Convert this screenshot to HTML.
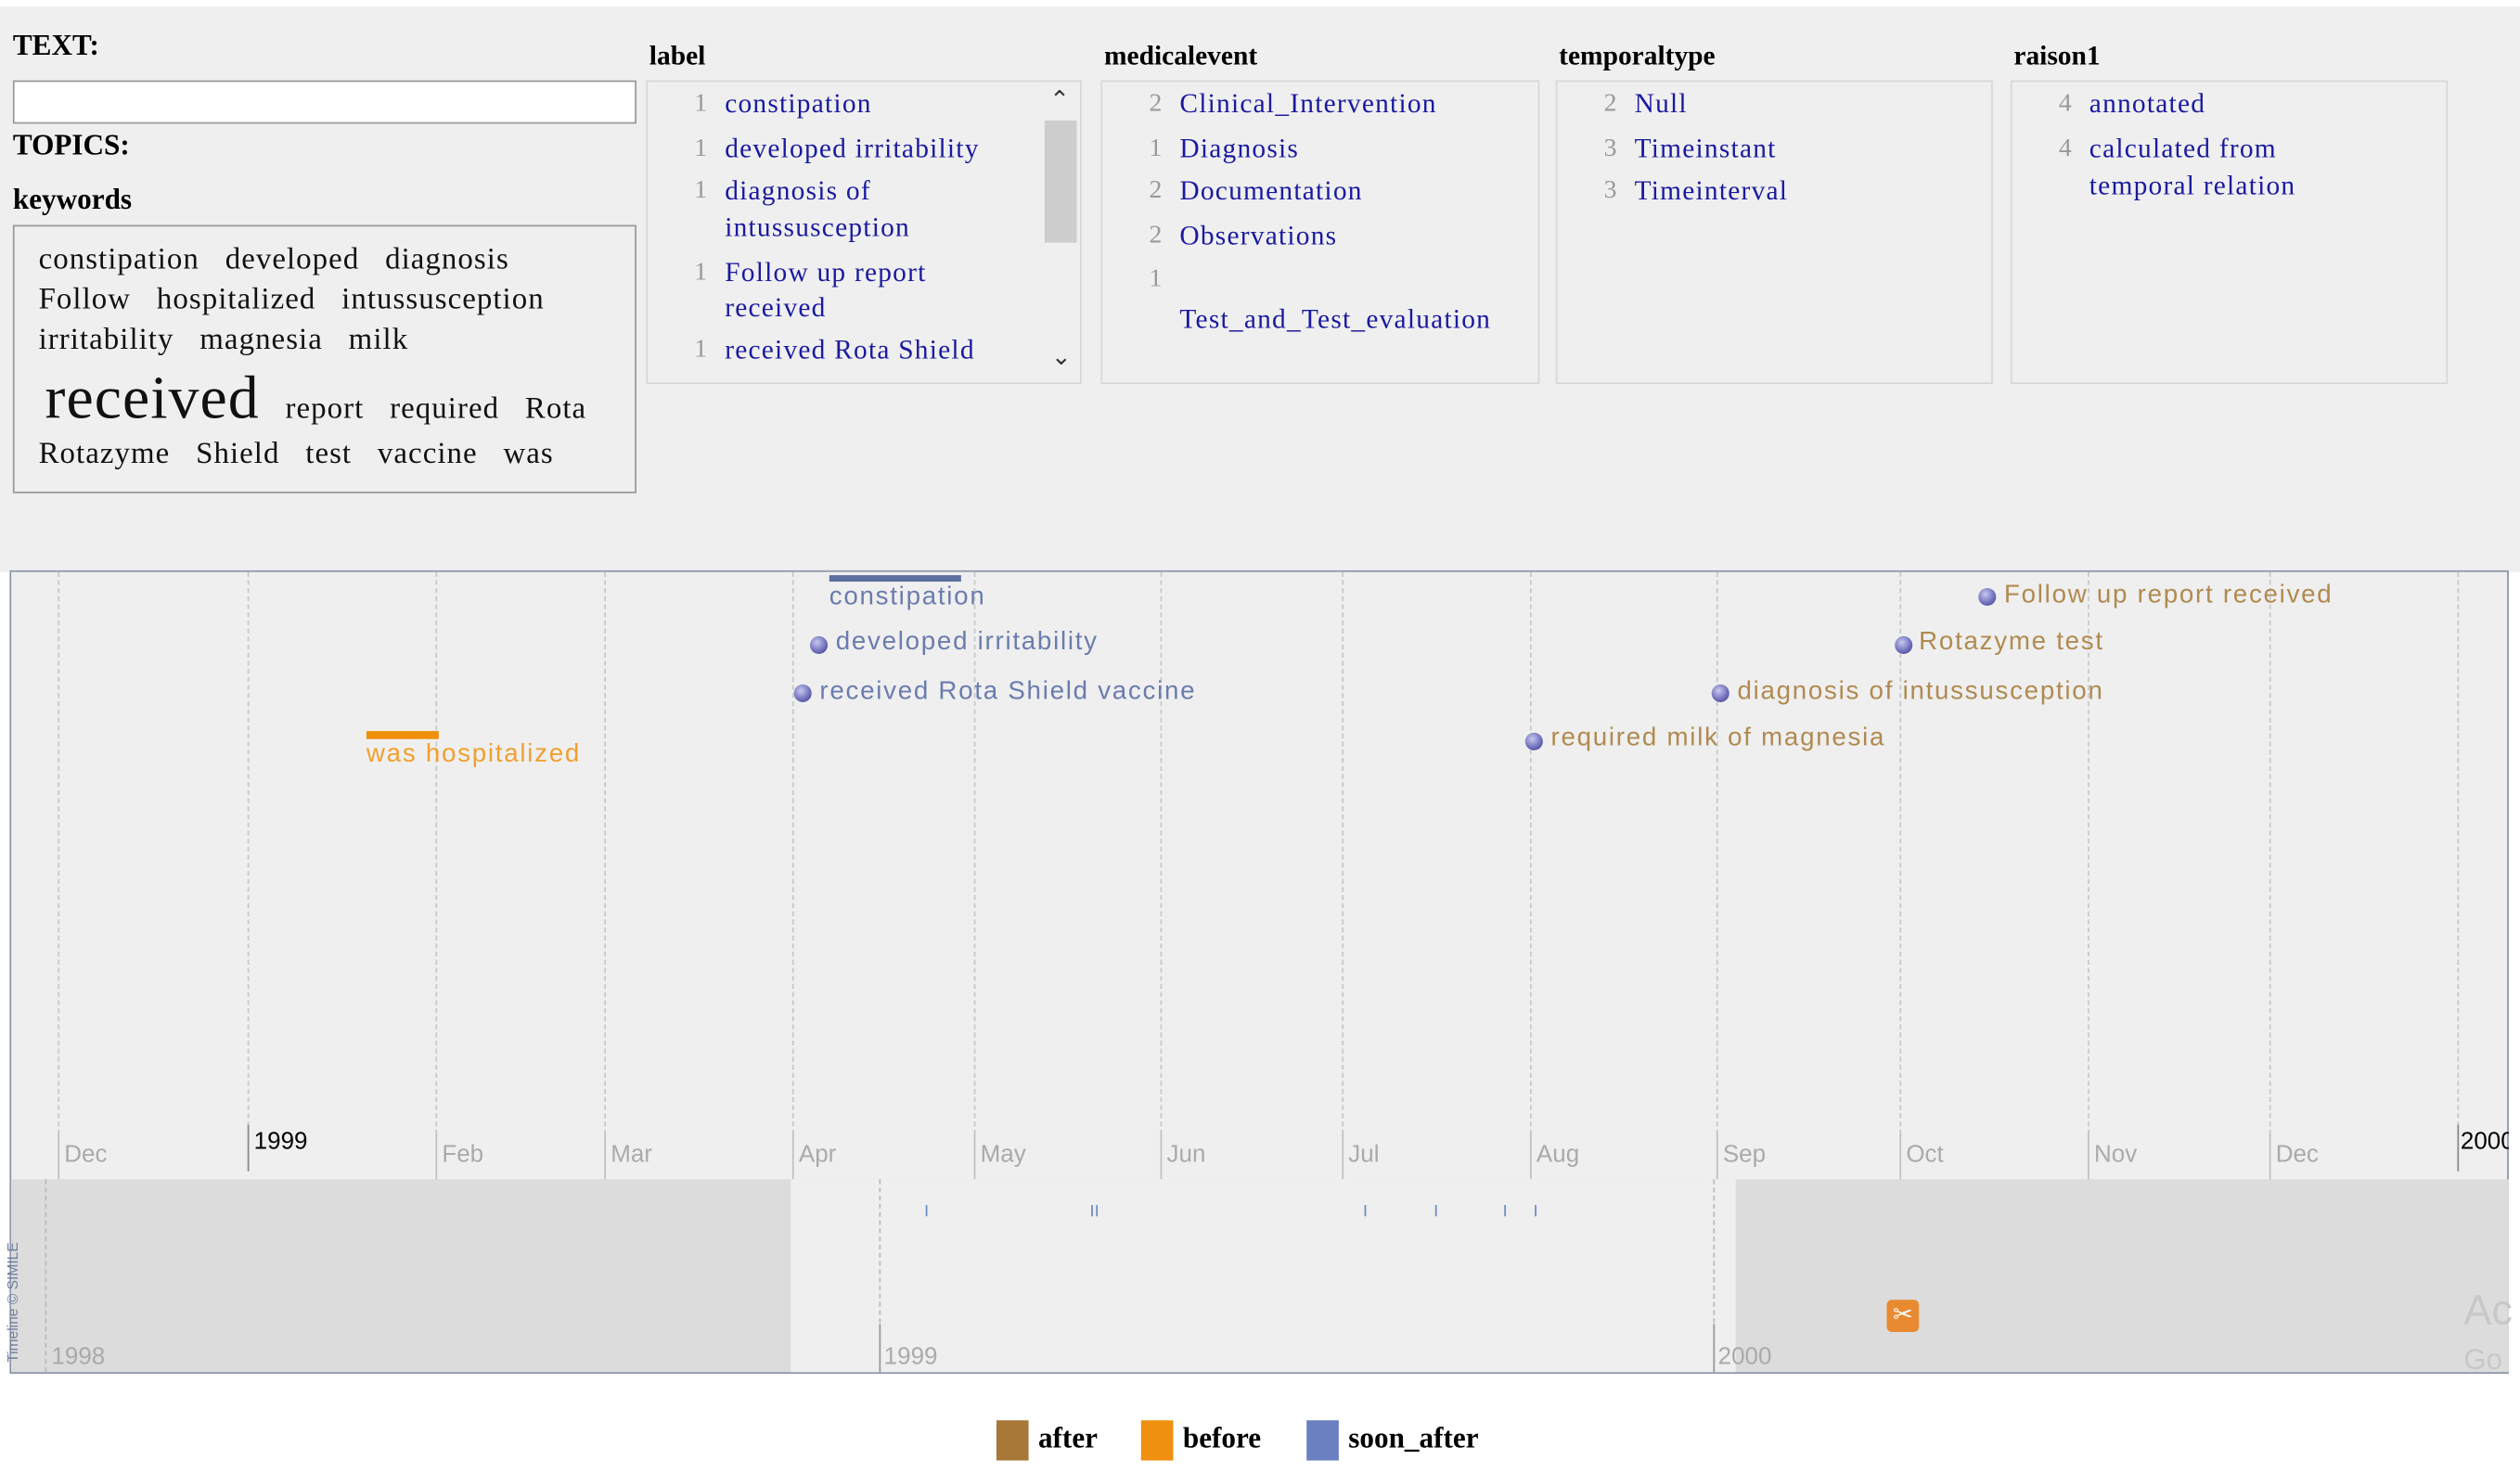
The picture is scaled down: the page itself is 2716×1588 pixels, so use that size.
<!DOCTYPE html>
<html><head><meta charset="utf-8"><style>
html,body{margin:0;padding:0;background:#fff;width:2716px;height:1588px;overflow:hidden}
#w{position:absolute;left:0;top:0;width:1568px;height:917px;transform:scale(1.73214);transform-origin:0 0}
.a{position:absolute;white-space:nowrap}
.s{font-family:"Liberation Serif",serif}
.h{font-family:"Liberation Serif",serif;font-weight:bold;font-size:17px;color:#000}
.kw{font-family:"Liberation Serif",serif;font-size:19px;letter-spacing:0.6px;color:#111}
.box{position:absolute;border:1px solid #d8d8d8;background:#efefef}
.n{position:absolute;font-family:"Liberation Serif",serif;font-size:16px;color:#999}
.t{position:absolute;font-family:"Liberation Serif",serif;font-size:17px;letter-spacing:0.7px;color:#1a1aa0;white-space:nowrap}
.g{position:absolute;top:356px;height:350px;border-left:1px dashed #c8c8c8}
.gs{position:absolute;top:705px;height:29px;border-left:1px solid #c0c0c0}
.m{position:absolute;top:710px;font-family:"Liberation Sans",sans-serif;font-size:15px;color:#aaa}
.ev{position:absolute;font-family:"Liberation Sans",sans-serif;font-size:16px;letter-spacing:1px;white-space:nowrap}
.dot{position:absolute;width:11px;height:11px;border-radius:50%;background:radial-gradient(circle at 40% 35%,#c8c8f0,#6a6ab8 60%,#3a3a80);}
.tk{position:absolute;top:750px;width:1px;height:7px;background:#6a8ac8}
</style></head><body><div id="w">
<div class="a" style="left:0;top:4px;width:1568px;height:352px;background:#efefef"></div>
<div class="a h" style="left:8px;top:18px;font-size:18px">TEXT:</div>
<div class="a" style="left:8px;top:50px;width:386px;height:25px;background:#fff;border:1px solid #999"></div>
<div class="a h" style="left:8px;top:80px;font-size:18px">TOPICS:</div>
<div class="a h" style="left:8px;top:114px;font-size:18px">keywords</div>
<div class="a" style="left:8px;top:140px;width:386px;height:165px;border:1px solid #999"></div>
<div class="a kw" style="left:24px;top:151px">constipation&nbsp;&nbsp; developed&nbsp;&nbsp; diagnosis</div>
<div class="a kw" style="left:24px;top:176px">Follow&nbsp;&nbsp; hospitalized&nbsp;&nbsp; intussusception</div>
<div class="a kw" style="left:24px;top:201px">irritability&nbsp;&nbsp; magnesia&nbsp;&nbsp; milk</div>
<div class="a kw" style="left:28px;top:226px"><span style="font-size:38px">received</span>&nbsp;&nbsp; report&nbsp;&nbsp; required&nbsp;&nbsp; Rota</div>
<div class="a kw" style="left:24px;top:272px">Rotazyme&nbsp;&nbsp; Shield&nbsp;&nbsp; test&nbsp;&nbsp; vaccine&nbsp;&nbsp; was</div>

<div class="a h" style="left:404px;top:25px">label</div>
<div class="box" style="left:402px;top:50px;width:269px;height:187px;overflow:hidden">
 <div class="n" style="left:29px;top:5px">1</div><div class="t" style="left:48px;top:4px">constipation</div>
 <div class="n" style="left:29px;top:33px">1</div><div class="t" style="left:48px;top:32px">developed irritability</div>
 <div class="n" style="left:29px;top:59px">1</div><div class="t" style="left:48px;top:58px">diagnosis of</div><div class="t" style="left:48px;top:81px">intussusception</div>
 <div class="n" style="left:29px;top:110px">1</div><div class="t" style="left:48px;top:109px">Follow up report</div><div class="t" style="left:48px;top:131px">received</div>
 <div class="n" style="left:29px;top:158px">1</div><div class="t" style="left:48px;top:157px">received Rota Shield</div>
 <div class="a" style="left:246px;top:0;width:22px;height:187px;background:#efefef"></div>
 <div class="a" style="left:247px;top:24px;width:20px;height:76px;background:#cdcdcd"></div>
 <div class="a s" style="left:250px;top:2px;font-size:15px;color:#333">&#8963;</div>
 <div class="a s" style="left:251px;top:162px;font-size:15px;color:#333">&#8964;</div>
</div>

<div class="a h" style="left:687px;top:25px">medicalevent</div>
<div class="box" style="left:685px;top:50px;width:271px;height:187px">
 <div class="n" style="left:29px;top:5px">2</div><div class="t" style="left:48px;top:4px">Clinical_Intervention</div>
 <div class="n" style="left:29px;top:33px">1</div><div class="t" style="left:48px;top:32px">Diagnosis</div>
 <div class="n" style="left:29px;top:59px">2</div><div class="t" style="left:48px;top:58px">Documentation</div>
 <div class="n" style="left:29px;top:87px">2</div><div class="t" style="left:48px;top:86px">Observations</div>
 <div class="n" style="left:29px;top:114px">1</div><div class="t" style="left:48px;top:138px">Test_and_Test_evaluation</div>
</div>

<div class="a h" style="left:970px;top:25px">temporaltype</div>
<div class="box" style="left:968px;top:50px;width:270px;height:187px">
 <div class="n" style="left:29px;top:5px">2</div><div class="t" style="left:48px;top:4px">Null</div>
 <div class="n" style="left:29px;top:33px">3</div><div class="t" style="left:48px;top:32px">Timeinstant</div>
 <div class="n" style="left:29px;top:59px">3</div><div class="t" style="left:48px;top:58px">Timeinterval</div>
</div>

<div class="a h" style="left:1253px;top:25px">raison1</div>
<div class="box" style="left:1251px;top:50px;width:270px;height:187px">
 <div class="n" style="left:29px;top:5px">4</div><div class="t" style="left:48px;top:4px">annotated</div>
 <div class="n" style="left:29px;top:33px">4</div><div class="t" style="left:48px;top:32px">calculated from</div><div class="t" style="left:48px;top:55px">temporal relation</div>
</div>

<!-- timeline -->
<div class="a" style="left:6px;top:355px;width:1555px;height:500px;border:1px solid #8c96a8;border-bottom:2px solid #8c96a8;background:#efefef;box-sizing:border-box"></div>
<div class="g" style="left:36px"></div><div class="g" style="left:154px"></div><div class="g" style="left:271px"></div><div class="g" style="left:376px"></div><div class="g" style="left:493px"></div><div class="g" style="left:606px"></div><div class="g" style="left:722px"></div><div class="g" style="left:835px"></div><div class="g" style="left:952px"></div><div class="g" style="left:1068px"></div><div class="g" style="left:1182px"></div><div class="g" style="left:1299px"></div><div class="g" style="left:1412px"></div><div class="g" style="left:1529px"></div>
<div class="gs" style="left:36px"></div><div class="gs" style="left:154px;top:700px;border-color:#888"></div><div class="gs" style="left:271px"></div><div class="gs" style="left:376px"></div><div class="gs" style="left:493px"></div><div class="gs" style="left:606px"></div><div class="gs" style="left:722px"></div><div class="gs" style="left:835px"></div><div class="gs" style="left:952px"></div><div class="gs" style="left:1068px"></div><div class="gs" style="left:1182px"></div><div class="gs" style="left:1299px"></div><div class="gs" style="left:1412px"></div><div class="gs" style="left:1529px;top:700px;border-color:#888"></div>
<div class="m" style="left:40px">Dec</div><div class="m" style="left:275px">Feb</div><div class="m" style="left:380px">Mar</div><div class="m" style="left:497px">Apr</div><div class="m" style="left:610px">May</div><div class="m" style="left:726px">Jun</div><div class="m" style="left:839px">Jul</div><div class="m" style="left:956px">Aug</div><div class="m" style="left:1072px">Sep</div><div class="m" style="left:1186px">Oct</div><div class="m" style="left:1303px">Nov</div><div class="m" style="left:1416px">Dec</div>
<div class="m" style="left:158px;top:702px;color:#000">1999</div>
<div class="a" style="left:1531px;top:702px;width:30px;overflow:hidden;font-family:'Liberation Sans',sans-serif;font-size:15px;color:#000">2000</div>

<div class="a" style="left:7px;top:734px;width:1554px;height:120px;background:#dcdcdc"></div>
<div class="a" style="left:492px;top:734px;width:588px;height:120px;background:#efefef"></div>
<div class="a" style="left:28px;top:734px;height:120px;border-left:1px dashed #bbb"></div>
<div class="a" style="left:547px;top:734px;height:120px;border-left:1px dashed #bbb"></div>
<div class="a" style="left:1066px;top:734px;height:120px;border-left:1px dashed #bbb"></div>
<div class="a" style="left:547px;top:824px;height:30px;border-left:1px solid #999"></div>
<div class="a" style="left:1066px;top:824px;height:30px;border-left:1px solid #999"></div>
<div class="m" style="left:32px;top:836px">1998</div><div class="m" style="left:550px;top:836px">1999</div><div class="m" style="left:1069px;top:836px">2000</div>
<div class="a" style="left:1533px;top:800px;font-family:'Liberation Sans',sans-serif;font-size:26px;color:#c8c8c8">Ac</div>
<div class="a" style="left:1533px;top:836px;font-family:'Liberation Sans',sans-serif;font-size:18px;color:#c8c8c8;width:28px;overflow:hidden">Go</div>
<div class="a" style="left:3px;top:848px;transform:rotate(-90deg);transform-origin:0 0;font-family:'Liberation Sans',sans-serif;font-size:9px;color:#7080a0">Timeline © SIMILE</div>
<div class="tk" style="left:576px"></div><div class="tk" style="left:679px"></div><div class="tk" style="left:682px"></div><div class="tk" style="left:849px"></div><div class="tk" style="left:893px"></div><div class="tk" style="left:936px"></div><div class="tk" style="left:955px"></div>
<div class="a" style="left:1174px;top:809px;width:20px;height:20px;background:#e88a30;border-radius:3px;color:#fff;font-family:'Liberation Sans',sans-serif;font-size:15px;text-align:center;line-height:20px">&#9986;</div>

<!-- events -->
<div class="a" style="left:516px;top:358px;width:82px;height:4px;background:#5b6fa0"></div>
<div class="ev" style="left:516px;top:363px;color:#6a7cae">constipation</div>
<div class="dot" style="left:504px;top:396px"></div><div class="ev" style="left:520px;top:391px;color:#6a7cae">developed irritability</div>
<div class="dot" style="left:494px;top:426px"></div><div class="ev" style="left:510px;top:422px;color:#6a7cae">received Rota Shield vaccine</div>
<div class="a" style="left:228px;top:455px;width:45px;height:5px;background:#f0900a"></div>
<div class="ev" style="left:228px;top:461px;color:#f0a030">was hospitalized</div>
<div class="dot" style="left:1231px;top:366px"></div><div class="ev" style="left:1247px;top:362px;color:#b08a50">Follow up report received</div>
<div class="dot" style="left:1179px;top:396px"></div><div class="ev" style="left:1194px;top:391px;color:#b08a50">Rotazyme test</div>
<div class="dot" style="left:1065px;top:426px"></div><div class="ev" style="left:1081px;top:422px;color:#b08a50">diagnosis of intussusception</div>
<div class="dot" style="left:949px;top:456px"></div><div class="ev" style="left:965px;top:451px;color:#b08a50">required milk of magnesia</div>

<!-- legend -->
<div class="a" style="left:620px;top:884px;width:20px;height:25px;background:#a87838"></div>
<div class="a h" style="left:646px;top:885px;font-size:18px">after</div>
<div class="a" style="left:710px;top:884px;width:20px;height:25px;background:#f09010"></div>
<div class="a h" style="left:736px;top:885px;font-size:18px">before</div>
<div class="a" style="left:813px;top:884px;width:20px;height:25px;background:#6a80c0"></div>
<div class="a h" style="left:839px;top:885px;font-size:18px">soon_after</div>
</div></body></html>
